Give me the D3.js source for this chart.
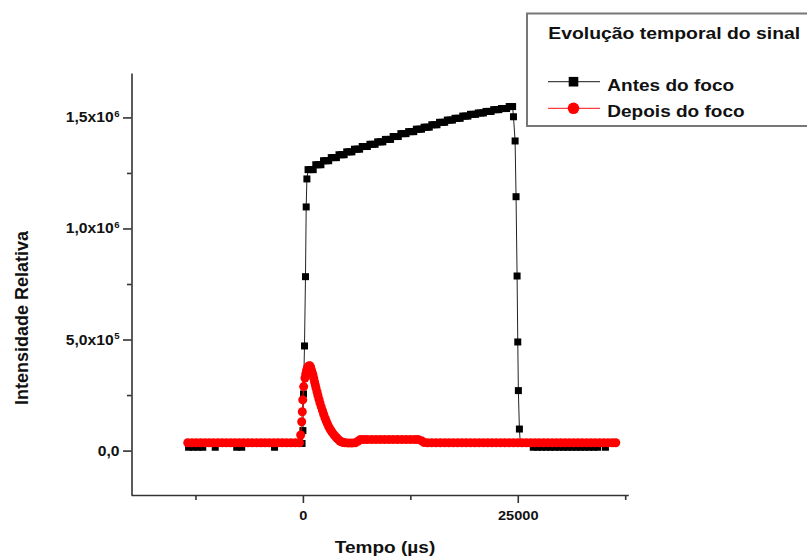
<!DOCTYPE html>
<html>
<head>
<meta charset="utf-8">
<script src="https://cdn.jsdelivr.net/npm/d3@7"></script>
<style>
  html, body { margin: 0; padding: 0; background: #fff; }
  svg { display: block; }
  text { font-family: "Liberation Sans", Arial, sans-serif; fill: #111; }
</style>
</head>
<body>
<svg id="chart" width="807" height="559"></svg>
<script>
// Série "Antes do foco": tempo (µs) e intensidade
const tempoAntes = [
  -13300, -12750, -12200, -11650, -11100, -10650, -10200, -9700, -9200, -8700, -8200,
  -7700, -7120, -6600, -6100, -5600, -5100, -4600, -4100, -3600, -3300, -2800, -2300,
  -1800, -1300, -800, -400, -100,
  0, 70, 186, 302, 384, 465,
  600, 900, 1200, 1500, 1800, 2100, 2400, 2700, 3000, 3300, 3600, 3900,
  4200, 4500, 4800, 5100, 5400, 5700, 6000, 6300, 6600, 6900, 7200, 7500,
  7800, 8100, 8400, 8700, 9000, 9300, 9600, 9900, 10200, 10500, 10800, 11100,
  11400, 11700, 12000, 12300, 12600, 12900, 13200, 13500, 13800, 14100, 14400, 14700,
  15000, 15300, 15600, 15900, 16200, 16500, 16800, 17100, 17400, 17700, 18000, 18300,
  18600, 18900, 19200, 19500, 19800, 20100, 20400, 20700, 21000, 21300, 21600, 21900,
  22200, 22500, 22800, 23100, 23400, 23700, 24000, 24200, 24400,
  24500, 24690, 24800, 24920, 25000, 25070, 25190, 25300,
  25800, 26300, 26800, 27300, 27800, 28300, 28800, 29300, 29800, 30300, 30800, 31300,
  31800, 32300, 32800, 33300, 33800, 34300, 34800, 35200
];
const intensidadeAntes = [
  15000, 15000, 15000, 15000, 32000, 32000, 15000, 32000, 32000, 32000, 32000,
  15000, 15000, 32000, 32000, 32000, 32000, 32000, 32000, 32000, 15000, 32000, 32000,
  32000, 32000, 32000, 32000, 32000,
  90000, 255000, 471000, 783000, 1097000, 1223000,
  1265000, 1265000, 1265000, 1287000, 1287000, 1287000, 1305000, 1305000, 1305000,
  1319000, 1319000, 1319000, 1332000, 1332000, 1332000, 1345000, 1345000, 1345000,
  1357000, 1357000, 1357000, 1369000, 1369000, 1369000, 1379000, 1379000, 1379000,
  1390000, 1390000, 1390000, 1401000, 1401000, 1401000, 1414000, 1414000, 1414000,
  1427000, 1427000, 1427000, 1436000, 1436000, 1436000, 1447000, 1447000, 1447000,
  1456000, 1456000, 1456000, 1467000, 1467000, 1467000, 1478000, 1478000, 1478000,
  1488000, 1488000, 1488000, 1496000, 1496000, 1496000, 1506000, 1506000, 1506000,
  1514000, 1514000, 1514000, 1520000, 1520000, 1520000, 1527000, 1527000, 1527000,
  1535000, 1535000, 1535000, 1540000, 1540000, 1540000, 1549000, 1549000, 1549000,
  1503000, 1394000, 1143000, 786000, 489000, 270000, 97000, 32000,
  32000, 32000, 15000, 15000, 15000, 15000, 15000, 15000, 15000, 15000, 15000, 15000,
  15000, 15000, 15000, 15000, 15000, 15000, 32000, 15000
];

// Série "Depois do foco": tempo (µs) e intensidade
const tempoDepois = [
  -13400, -12900, -12400, -11900, -11400, -10900, -10400, -9900, -9400, -8900, -8400,
  -7900, -7400, -6900, -6400, -5900, -5400, -4900, -4400, -3900, -3400, -2900, -2400,
  -1900, -1400, -900, -400,
  -260, -140, -70, -20, 90, 240, 330, 420, 510, 600, 700, 800, 900, 1000, 1100, 1175,
  1260, 1350, 1440, 1524, 1640, 1750, 1870, 1989, 2130, 2280, 2420, 2571, 2710, 2860,
  3000, 3153, 3300, 3450, 3600, 3735, 3880, 4030, 4170, 4317, 4460, 4600, 4750, 4900,
  5300, 5700, 6100,
  6400, 6700, 7100, 7500, 8000, 8500, 9000, 9500, 10000, 10500, 11000, 11500, 12000,
  12500, 13000, 13400, 13800, 14100,
  14500, 15000, 15500, 16000, 16500, 17000, 17500, 18000, 18500, 19000, 19500, 20000,
  20500, 21000, 21500, 22000, 22500, 23000, 23500, 24000, 24500, 25000, 25500, 26000,
  26500, 27000, 27500, 28000, 28500, 29000, 29500, 30000, 30500, 31000, 31500, 32000,
  32500, 33000, 33500, 34000, 34500, 35000, 35500, 36000, 36400
];
const intensidadeDepois = [
  35000, 35000, 35000, 35000, 35000, 35000, 35000, 35000, 35000, 35000, 35000,
  35000, 35000, 35000, 35000, 35000, 35000, 35000, 35000, 35000, 35000, 35000, 35000,
  35000, 35000, 35000, 35000,
  70000, 130000, 175000, 228000, 288000, 327000, 345000, 360000, 370000, 378000,
  381000, 382000, 375000, 362000, 350000, 340000,
  326000, 310000, 296000, 282000, 265000, 248000, 231000, 214000, 197000, 180000,
  163000, 147000, 133000, 120000,
  108000, 97000, 88000, 80000, 72000, 66000, 59000, 53000, 48000, 43000, 40000,
  38000, 36000, 35000,
  34000, 34000, 35000,
  42000, 50000, 50000, 50000, 50000, 50000, 50000, 50000, 50000, 50000, 50000, 50000,
  50000, 50000, 50000, 50000, 44000, 36000,
  35000, 35000, 35000, 35000, 35000, 35000, 35000, 35000, 35000, 35000, 35000, 35000,
  35000, 35000, 35000, 35000, 35000, 35000, 35000, 35000, 35000, 35000, 35000, 35000,
  35000, 35000, 35000, 35000, 35000, 35000, 35000, 35000, 35000, 35000, 35000, 35000,
  35000, 35000, 35000, 35000, 35000, 35000, 35000, 35000, 35000
];

// Marcas dos eixos
const xTicksMaiores = [0, 25000];
const xTicksMenores = [-12500, 12500, 37500];
const yTicksMaiores = [0, 500000, 1000000, 1500000];
const yTicksMenores = [250000, 750000, 1250000];
const yRotulos = [["0,0", ""], ["5,0x10", "5"], ["1,0x10", "6"], ["1,5x10", "6"]];

const tituloX = "Tempo (µs)";
const tituloY = "Intensidade Relativa";
const tituloLegenda = "Evolução temporal do sinal";
const nomesSeries = ["Antes do foco", "Depois do foco"];

const SX = 1.12; // leve alargamento horizontal do texto

const svg = d3.select("#chart");

const x = d3.scaleLinear().domain([-20000, 37860]).range([131, 628.3]);
const y = d3.scaleLinear().domain([-200000, 1700000]).range([495, 73]);

const AXIS_COLOR = "#333";

// Eixo X
const gx = svg.append("g").attr("transform", "translate(0,495)");
gx.call(d3.axisBottom(x).tickValues(xTicksMaiores).tickSize(8).tickSizeOuter(0)
  .tickFormat(d => String(d)));
gx.append("g").call(d3.axisBottom(x).tickValues(xTicksMenores).tickSize(5)
  .tickSizeOuter(0).tickFormat(() => "")).select(".domain").remove();
gx.selectAll("path, line").attr("stroke", AXIS_COLOR).attr("stroke-width", 1.6);
gx.selectAll(".tick text")
  .attr("y", 0).attr("dy", null)
  .attr("transform", `translate(0,25) scale(${SX},1)`)
  .style("font-size", "13px").style("font-weight", "bold").attr("fill", "#111");

// Eixo Y
const gy = svg.append("g").attr("transform", "translate(131.5,0)");
gy.call(d3.axisLeft(y).tickValues(yTicksMaiores).tickSize(8.5).tickSizeOuter(0)
  .tickFormat(() => ""));
gy.append("g").call(d3.axisLeft(y).tickValues(yTicksMenores).tickSize(4.5)
  .tickSizeOuter(0).tickFormat(() => "")).select(".domain").remove();
gy.selectAll("path, line").attr("stroke", AXIS_COLOR).attr("stroke-width", 1.6);
gy.selectAll(".tick text").remove();
yTicksMaiores.forEach((v, i) => {
  const [mant, exp] = yRotulos[i];
  const t = gy.append("text")
    .attr("text-anchor", "end")
    .attr("transform", `translate(-12,${y(v) + 5}) scale(${SX},1)`)
    .style("font-size", "14px").style("font-weight", "bold");
  t.append("tspan").text(mant);
  if (exp) {
    t.append("tspan").attr("dy", -5.5).attr("dx", 0.5)
      .style("font-size", "8.5px").text(exp);
  }
});

// Títulos dos eixos
svg.append("text")
  .attr("text-anchor", "middle")
  .attr("transform", `translate(385,553) scale(${SX},1)`)
  .style("font-size", "17px").style("font-weight", "bold")
  .text(tituloX);
svg.append("text")
  .attr("text-anchor", "middle")
  .attr("transform", "translate(28,318) rotate(-90)")
  .style("font-size", "18px").style("font-weight", "bold")
  .text(tituloY);

// Séries
const antes = tempoAntes.map((t, i) => [t, intensidadeAntes[i]]);
const depois = tempoDepois.map((t, i) => [t, intensidadeDepois[i]]);
const linha = d3.line().x(d => x(d[0])).y(d => y(d[1]));

const sq = 7;
svg.append("path").datum(antes).attr("d", linha)
  .attr("fill", "none").attr("stroke", "#222").attr("stroke-width", 1);
svg.append("g").selectAll("rect").data(antes).join("rect")
  .attr("x", d => x(d[0]) - sq / 2).attr("y", d => y(d[1]) - sq / 2)
  .attr("width", sq).attr("height", sq).attr("fill", "#000");

svg.append("path").datum(depois).attr("d", linha)
  .attr("fill", "none").attr("stroke", "#ff0000").attr("stroke-width", 1);
svg.append("g").selectAll("circle").data(depois).join("circle")
  .attr("cx", d => x(d[0])).attr("cy", d => y(d[1])).attr("r", 4.5)
  .attr("fill", "#ff0000");

// Legenda
const leg = svg.append("g");
leg.append("rect").attr("x", 527).attr("y", 13.5).attr("width", 300).attr("height", 112.5)
  .attr("fill", "#fff").attr("stroke", "#777").attr("stroke-width", 2);
leg.append("text").attr("transform", `translate(548.3,39.3) scale(${SX},1)`)
  .style("font-size", "17.3px").style("font-weight", "bold").text(tituloLegenda);

const legY = [81.7, 108.3];
const legCores = ["#444", "#ff4040"];
legY.forEach((ly, i) => {
  leg.append("line").attr("x1", 548).attr("x2", 600).attr("y1", ly).attr("y2", ly)
    .attr("stroke", legCores[i]).attr("stroke-width", 1.2);
  if (i === 0) {
    leg.append("rect").attr("x", 573.5 - 4.8).attr("y", ly - 4.8)
      .attr("width", 9.6).attr("height", 9.6).attr("fill", "#000");
  } else {
    leg.append("circle").attr("cx", 573.5).attr("cy", ly).attr("r", 5.8)
      .attr("fill", "#ff0000");
  }
  leg.append("text").attr("transform", `translate(607.3,${ly + 9}) scale(${SX},1)`)
    .style("font-size", "17px").style("font-weight", "bold").text(nomesSeries[i]);
});
</script>
</body>
</html>
